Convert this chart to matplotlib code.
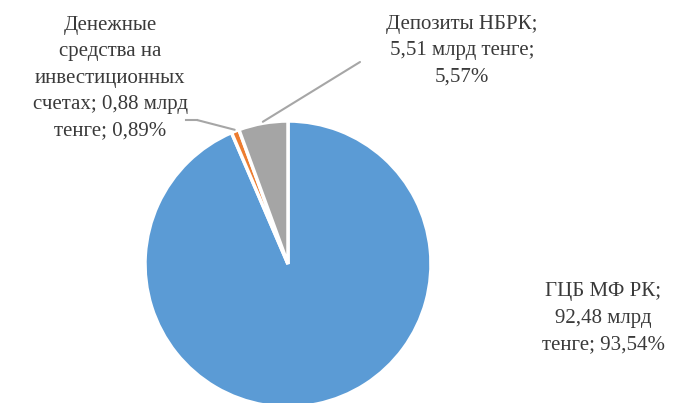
import matplotlib
matplotlib.use("Agg")
import matplotlib.pyplot as plt
import numpy as np
from matplotlib.lines import Line2D

categories = ["ГЦБ МФ РК", "Денежные средства на инвестиционных счетах", "Депозиты НБРК"]
values = [92.48, 0.88, 5.51]
percents = ["93,54%", "0,89%", "5,57%"]
value_labels = ["92,48 млрд тенге", "0,88 млрд тенге", "5,51 млрд тенге"]
colors = ["#5B9BD5", "#ED7D31", "#A5A5A5"]

plt.rcParams['font.family'] = ['Liberation Serif', 'DejaVu Serif']

W, H = 675, 403
fig = plt.figure(figsize=(W / 100, H / 100), dpi=100)
cx, cy, R = 288, 264, 143
ax = fig.add_axes([(cx - R) / W, (H - cy - R) / H, 2 * R / W, 2 * R / H])
wedges, _ = ax.pie(values, colors=colors, startangle=90, counterclock=False,
                   radius=1.0, wedgeprops=dict(edgecolor="white", linewidth=2.5))
ax.set_xlim(-1, 1)
ax.set_ylim(-1, 1)
ax.set_aspect("equal")
ax.axis("off")

txt_color = "#3a3a3a"
fs = 15
ls = 1.52

def px(x, y):
    return (x / W, 1 - y / H)

# Label texts
fig.text(*px(603, 318), "ГЦБ МФ РК;\n92,48 млрд\nтенге; 93,54%", ha="center", va="center",
         fontsize=fs, color=txt_color, linespacing=ls, multialignment="center")
fig.text(*px(110, 78), "Денежные\nсредства на\nинвестиционных\nсчетах; 0,88 млрд\nтенге; 0,89%",
         ha="center", va="center", fontsize=fs, color=txt_color, linespacing=ls,
         multialignment="center")
fig.text(*px(462, 51), "Депозиты НБРК;\n5,51 млрд тенге;\n5,57%", ha="center", va="center",
         fontsize=fs, color=txt_color, linespacing=ls, multialignment="center")

# Leader lines
line_color = "#A6A6A6"
def mid_angle(w):
    return np.deg2rad((w.theta1 + w.theta2) / 2)

a1 = mid_angle(wedges[1])
ax.annotate("", xy=(1.01 * np.cos(a1), 1.01 * np.sin(a1)), xycoords="data",
            xytext=px(197, 120), textcoords="figure fraction",
            arrowprops=dict(arrowstyle="-", color=line_color, lw=1.5, shrinkA=0, shrinkB=0))
fig.add_artist(Line2D([186 / W, 197 / W], [1 - 120 / H, 1 - 120 / H],
                      transform=fig.transFigure, color=line_color, lw=1.5))

a2 = mid_angle(wedges[2])
ax.annotate("", xy=(1.01 * np.cos(a2), 1.01 * np.sin(a2)), xycoords="data",
            xytext=px(360, 62), textcoords="figure fraction",
            arrowprops=dict(arrowstyle="-", color=line_color, lw=1.5, shrinkA=0, shrinkB=0))

fig.savefig("out.png", dpi=100)
